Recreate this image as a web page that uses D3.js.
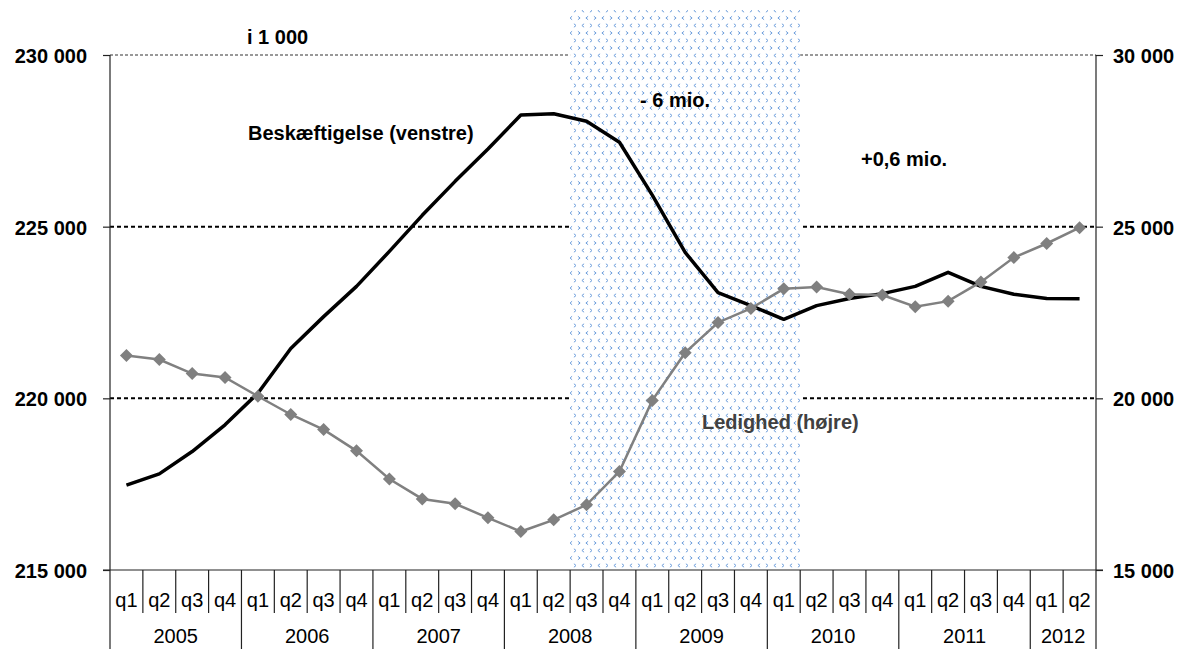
<!DOCTYPE html>
<html>
<head>
<meta charset="utf-8">
<script src="https://cdn.jsdelivr.net/npm/d3@7"></script>
<style>
  html, body { margin: 0; padding: 0; background: #fff; }
  svg { display: block; font-family: "Liberation Sans", Arial, sans-serif; }
</style>
</head>
<body>
<svg id="chart" width="1179" height="649"></svg>
<script>
// ---------- DATA ----------
const years = ["2005", "2006", "2007", "2008", "2009", "2010", "2011", "2012"];
const quartersPerYear = [4, 4, 4, 4, 4, 4, 4, 2];
const quarterLabels = [
  "q1","q2","q3","q4", "q1","q2","q3","q4", "q1","q2","q3","q4", "q1","q2","q3","q4",
  "q1","q2","q3","q4", "q1","q2","q3","q4", "q1","q2","q3","q4", "q1","q2"
];
// Beskæftigelse (venstre akse), i 1 000
const employment = [
  217470, 217800, 218450, 219230, 220150, 221450, 222380, 223260,
  224280, 225330, 226320, 227260, 228250, 228290, 228070, 227460,
  225920, 224250, 223080, 222700, 222300, 222700, 222910, 223050,
  223260, 223670, 223260, 223030, 222910, 222900
];
// Ledighed (højre akse), i 1 000
const unemployment = [
  21250, 21130, 20720, 20610, 20060, 19530, 19090, 18470,
  17650, 17070, 16930, 16520, 16120, 16460, 16900, 17870,
  19940, 21330, 22210, 22620, 23190, 23240, 23030, 23010,
  22670, 22830, 23390, 24100, 24510, 24970
];
const leftTicks = [215000, 220000, 225000, 230000];
const rightTicks = [15000, 20000, 25000, 30000];
const shadedPeriod = [14, 20]; // 2008 q3 .. 2010 q1 (indices into quarters)
const annotations = [
  { text: "i 1 000", x: 247, y: 44, fill: "#000" },
  { text: "Beskæftigelse (venstre)", x: 248, y: 140, fill: "#000" },
  { text: "- 6 mio.", x: 640, y: 107, fill: "#000" },
  { text: "+0,6 mio.", x: 861, y: 166, fill: "#000" },
  { text: "Ledighed (højre)", x: 702, y: 429, fill: "#404040" }
];

// ---------- LAYOUT ----------
const L = 110, R = 1096, T = 55, B = 570;
const svg = d3.select("#chart");
const idx = d3.range(quarterLabels.length);
const x = d3.scaleBand().domain(idx).range([L, R]).paddingInner(0).paddingOuter(0);
const bw = x.bandwidth();
const yL = d3.scaleLinear().domain([215000, 230000]).range([B, T]);
const yR = d3.scaleLinear().domain([15000, 30000]).range([B, T]);
const fmt = d => d3.format(",")(d).replace(/,/g, " ");

// pattern
const defs = svg.append("defs");
const pat = defs.append("pattern").attr("id", "dots")
  .attr("patternUnits", "userSpaceOnUse").attr("width", 16).attr("height", 15);
pat.append("rect").attr("width", 16).attr("height", 15).attr("fill", "#fff");
const chev = (cx, cy, dir) => dir > 0
  ? `M${cx-1.1},${cy-1.7}L${cx+1.1},${cy}L${cx-1.1},${cy+1.7}`
  : `M${cx+1.1},${cy-1.7}L${cx-1.1},${cy}L${cx+1.1},${cy+1.7}`;
[[3, 3, 1], [11, 3, -1], [7, 10.5, -1], [15, 10.5, 1]].forEach(([cx, cy, d]) => {
  pat.append("path").attr("d", chev(cx, cy, d))
    .attr("fill", "none").attr("stroke", "#6f9fdc").attr("stroke-width", 1);
});

// gridlines
svg.append("g").selectAll("line").data(leftTicks.filter(v => v > 215000)).join("line")
  .attr("x1", L).attr("x2", R)
  .attr("y1", d => yL(d)).attr("y2", d => yL(d))
  .attr("stroke", d => d === 230000 ? "#333" : "#000")
  .attr("stroke-width", d => d === 230000 ? 1.2 : 2)
  .attr("stroke-dasharray", d => d === 230000 ? "3,2" : "4,3");

// shaded period
svg.append("rect")
  .attr("x", x(shadedPeriod[0]))
  .attr("width", x(shadedPeriod[1]) + bw - x(shadedPeriod[0]))
  .attr("y", 10).attr("height", 558)
  .attr("fill", "url(#dots)");

// employment line (black)
const lineL = d3.line().x((d, i) => x(i) + bw / 2).y(d => yL(d));
svg.append("path").datum(employment).attr("d", lineL)
  .attr("fill", "none").attr("stroke", "#000").attr("stroke-width", 3.5)
  .attr("stroke-linejoin", "round");

// unemployment line (grey with diamonds)
const lineR = d3.line().x((d, i) => x(i) + bw / 2).y(d => yR(d));
svg.append("path").datum(unemployment).attr("d", lineR)
  .attr("fill", "none").attr("stroke", "#808080").attr("stroke-width", 2.5);
svg.append("g").selectAll("path").data(unemployment).join("path")
  .attr("transform", (d, i) => `translate(${x(i) + bw / 2},${yR(d)})`)
  .attr("d", "M0,-6.5L6.5,0L0,6.5L-6.5,0Z")
  .attr("fill", "#808080");

// left axis
const axL = svg.append("g").attr("transform", `translate(${L},0)`)
  .call(d3.axisLeft(yL).tickValues(leftTicks).tickFormat(fmt).tickSize(7).tickPadding(16));
axL.select(".domain").remove();
axL.selectAll("line").attr("stroke", "#222").attr("stroke-width", 1.2);
axL.selectAll("text").attr("font-size", 20).attr("font-weight", "bold")
  .attr("font-family", "Liberation Sans, Arial, sans-serif").attr("fill", "#000").attr("dy", "0.38em");

// right axis
const axR = svg.append("g").attr("transform", `translate(${R},0)`)
  .call(d3.axisRight(yR).tickValues(rightTicks).tickFormat(fmt).tickSize(7).tickPadding(10));
axR.select(".domain").remove();
axR.selectAll("line").attr("stroke", "#222").attr("stroke-width", 1.2);
axR.selectAll("text").attr("font-size", 20).attr("font-weight", "bold")
  .attr("font-family", "Liberation Sans, Arial, sans-serif").attr("fill", "#000").attr("dy", "0.38em");

// axis lines
const axisG = svg.append("g").attr("stroke", "#222").attr("stroke-width", 1.2);
axisG.append("line").attr("x1", L).attr("x2", L).attr("y1", T).attr("y2", 649);
axisG.append("line").attr("x1", R).attr("x2", R).attr("y1", T).attr("y2", 649);
axisG.append("line").attr("x1", L - 7).attr("x2", R + 7).attr("y1", B).attr("y2", B);

// category dividers
const yearStarts = [];
let acc = 0;
quartersPerYear.forEach(n => { yearStarts.push(acc); acc += n; });
const boundaries = d3.range(1, quarterLabels.length);
axisG.selectAll("line.div").data(boundaries).join("line").attr("class", "div")
  .attr("x1", i => x(i)).attr("x2", i => x(i))
  .attr("y1", B).attr("y2", i => yearStarts.includes(i) ? 649 : 613);

// quarter labels
svg.append("g").selectAll("text").data(quarterLabels).join("text")
  .attr("x", (d, i) => x(i) + bw / 2).attr("y", 607)
  .attr("text-anchor", "middle").attr("font-size", 20).attr("fill", "#000")
  .text(d => d);

// year labels
svg.append("g").selectAll("text").data(years).join("text")
  .attr("x", (d, i) => {
    const s = yearStarts[i], e = s + quartersPerYear[i];
    return (x(s) + (e < quarterLabels.length ? x(e) : R)) / 2;
  })
  .attr("y", 643).attr("text-anchor", "middle").attr("font-size", 20).attr("fill", "#000")
  .text(d => d);

// annotations
svg.append("g").selectAll("text").data(annotations).join("text")
  .attr("x", d => d.x).attr("y", d => d.y)
  .attr("font-size", 20).attr("font-weight", "bold").attr("fill", d => d.fill)
  .text(d => d.text);
</script>
</body>
</html>
